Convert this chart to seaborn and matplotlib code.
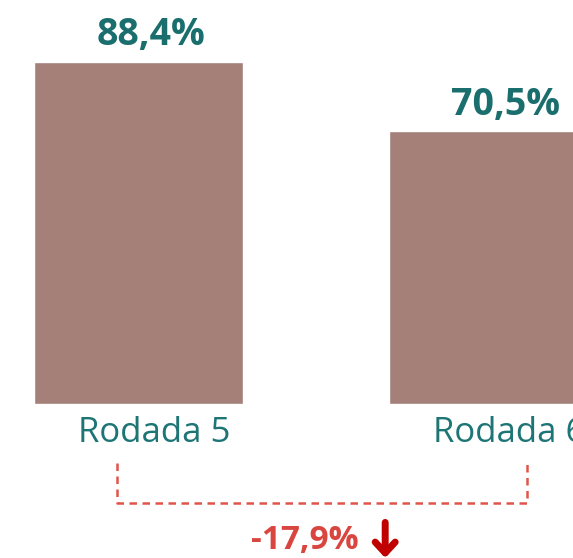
import matplotlib.pyplot as plt
import seaborn as sns
import pandas as pd
from matplotlib.transforms import ScaledTranslation

rodadas = ["Rodada 5", "Rodada 6"]
valores = [88.4, 70.5]

df = pd.DataFrame({"rodada": rodadas, "valor": valores})

sns.set_theme(style="white")
plt.rcParams["font.family"] = ["Open Sans", "DejaVu Sans"]

fig = plt.figure(figsize=(5.73, 5.58), dpi=100)
ax = fig.add_axes([0, 154 / 558, 1, 404 / 558])

sns.barplot(data=df, x="rodada", y="valor", color="#A48079", saturation=1,
            width=0.589, ax=ax)

ax.set_xlim(-0.390, 1.224)
ax.set_ylim(0, 104.4)
ax.set_xlabel("")
ax.set_ylabel("")
ax.set_yticks([])
sns.despine(ax=ax, left=True, bottom=True, top=True, right=True)

ax.tick_params(axis="x", length=0, pad=9, labelsize=25, labelcolor="#1D7575")
off = ScaledTranslation(16 / 100, 0, fig.dpi_scale_trans)
for lab in ax.get_xticklabels():
    lab.set_transform(lab.get_transform() + off)

# value labels
for i, v in enumerate(valores):
    ax.annotate(f"{v:.1f}%".replace(".", ","), xy=(i, v), xytext=(9, 12),
                textcoords="offset points", ha="center", va="baseline",
                fontsize=27, fontweight="bold", color="#1A6E6E",
                annotation_clip=False)

# dashed bracket between rounds
red = "#E0554B"
xl, xr = 0 - 0.061, 1 + 0.094
ax.plot([xl, xl, xr, xr], [-15.2, -25.6, -25.6, -15.2], color=red,
        linestyle=(0, (3, 2.2)), linewidth=1.8, clip_on=False)

diff = valores[1] - valores[0]
ax.text(0.469, -35.4, f"{diff:.1f}%".replace(".", ","), ha="center",
        va="center", fontsize=24, fontweight="bold", color="#D9453F",
        clip_on=False)
ax.annotate("", xy=(0.695, -39.8), xytext=(0.695, -30.6),
            arrowprops=dict(arrowstyle="->,head_length=0.65,head_width=0.6",
                            color="#C00000", lw=5, shrinkA=0, shrinkB=0),
            annotation_clip=False)

plt.savefig("out.png", dpi=100)
